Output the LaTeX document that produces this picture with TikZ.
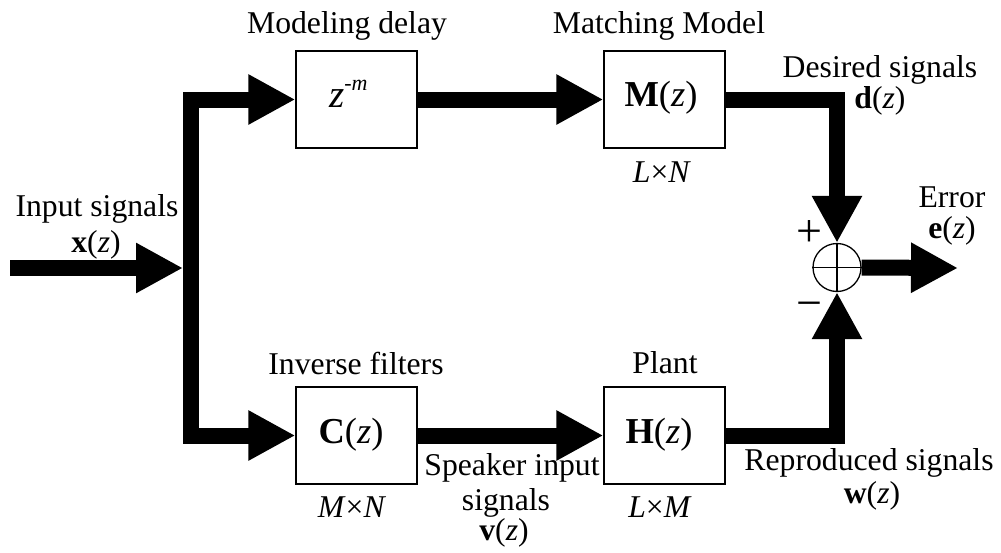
\documentclass[tikz,border=0pt]{standalone}
\usepackage{fontspec}
\setmainfont{Liberation Serif}
\usetikzlibrary{arrows.meta}
\begin{document}
\begin{tikzpicture}[x=1pt,y=-1pt,
  box/.style={draw, line width=1.3pt, minimum width=121pt, minimum height=97pt, inner sep=0pt},
  flow/.style={line width=16pt, line join=miter, -{Triangle[length=47pt,width=47pt]}},
  lbl/.style={anchor=base, inner sep=0pt, font=\fontsize{31.7}{36}\selectfont},
  blbl/.style={anchor=base, inner sep=0pt, font=\fontsize{36.5}{40}\selectfont},
  sgn/.style={inner sep=0pt, font=\fontsize{46}{50}\selectfont}]
\useasboundingbox (0,0) rectangle (1001,552);
% blocks
\node[box] (zb) at (356.5,99.5) {};
\node[box] (mb) at (664.5,99.5) {};
\node[box] (cb) at (356.5,435.5) {};
\node[box] (hb) at (664.5,435.5) {};
\node[circle, draw, line width=1.3pt, minimum size=48pt, inner sep=0pt] (sum) at (837,267.5) {};
\draw[line width=1.3pt] (sum.north) -- (sum.south) (sum.west) -- (sum.east);
\coordinate (in) at (10,268);
\coordinate (split) at (191,268);
\coordinate (out) at (958,268);
% connectors
\draw[flow, shorten >=8pt] (in) -- (split);
\draw[flow] (split) |- (zb.west);
\draw[flow] (split) |- (cb.west);
\draw[flow] (zb.east) -- (mb.west);
\draw[flow] (cb.east) -- (hb.west);
\draw[flow] (mb.east) -| (sum.north);
\draw[flow] (hb.east) -| (sum.south);
\draw[flow] (sum.east) -- (out);
% block texts
\node[anchor=base west, inner sep=0pt] (zt) at (329,107) {\fontsize{39}{40}\selectfont\textit{z}\raisebox{17pt}{\fontsize{22}{24}\selectfont -\textit{m}}};
\node[blbl] (mt) at (661,106) {\textbf{M}(\textit{z})};
\node[blbl] (ct) at (351,443) {\textbf{C}(\textit{z})};
\node[blbl] (ht) at (659,443) {\textbf{H}(\textit{z})};
% labels
\node[lbl] (l1) at (347,33) {Modeling delay};
\node[lbl] (l2) at (659,33) {Matching Model};
\node[lbl] (l3) at (662,182) {\textit{L}×\textit{N}};
\node[lbl] (l4) at (880,77) {Desired signals};
\node[lbl] (l5) at (880,108) {\textbf{d}(\textit{z})};
\node[lbl] (l6) at (97,216) {Input signals};
\node[lbl] (l7) at (96,252) {\textbf{x}(\textit{z})};
\node[lbl] (l8) at (952,207) {Error};
\node[lbl] (l9) at (952,238) {\textbf{e}(\textit{z})};
\node[lbl] (l10) at (356,374) {Inverse filters};
\node[lbl] (l11) at (665,373) {Plant};
\node[lbl] (l12) at (352,517) {\textit{M}×\textit{N}};
\node[lbl] (l13) at (660,517) {\textit{L}×\textit{M}};
\node[lbl] (l14) at (512,475) {Speaker input};
\node[lbl] (l15) at (506,510) {signals};
\node[lbl] (l16) at (504,540) {\textbf{v}(\textit{z})};
\node[lbl] (l17) at (869,470) {Reproduced signals};
\node[lbl] (l18) at (872,503) {\textbf{w}(\textit{z})};
\node[sgn] (plus) at (809,234) {+};
\node[sgn] (minus) at (809,310) {−};
\end{tikzpicture}
\end{document}
